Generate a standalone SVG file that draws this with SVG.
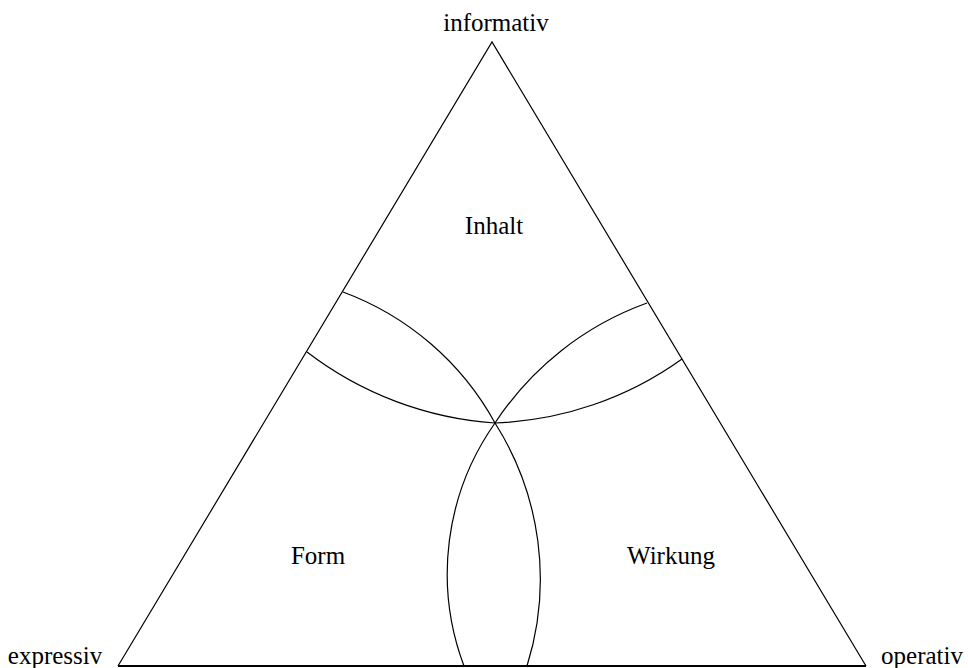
<svg xmlns="http://www.w3.org/2000/svg" width="968" height="668" viewBox="0 0 968 668">
<style>
.ln{fill:none;stroke:#000;stroke-width:1.2}
.t{font-family:"Liberation Serif","Times New Roman",serif;font-size:25px;fill:#000;text-anchor:middle}
</style>
<rect width="968" height="668" fill="#fff"/>
<g id="triangle">
<path class="ln" d="M118,666 L492,42 L866,666"/>
<line x1="118" y1="666" x2="866" y2="666" stroke="#000" stroke-width="2"/>
</g>
<g id="arcs">
<path class="ln" d="M343,292 A287,287 0 0 1 495,423"/>
<path class="ln" d="M307,352 A348,348 0 0 0 495,423"/>
<path class="ln" d="M647,303 A306,306 0 0 0 495,423"/>
<path class="ln" d="M682,359 A342,342 0 0 1 495,423"/>
<path class="ln" d="M495,423 A262,262 0 0 0 464,666"/>
<path class="ln" d="M495,423 A291,291 0 0 1 527,666"/>
</g>
<g id="labels">
<text class="t" x="496" y="31">informativ</text>
<text class="t" x="494" y="234">Inhalt</text>
<text class="t" x="318" y="564">Form</text>
<text class="t" x="671" y="564">Wirkung</text>
<text class="t" x="55" y="664">expressiv</text>
<text class="t" x="922" y="664">operativ</text>
</g>
</svg>
